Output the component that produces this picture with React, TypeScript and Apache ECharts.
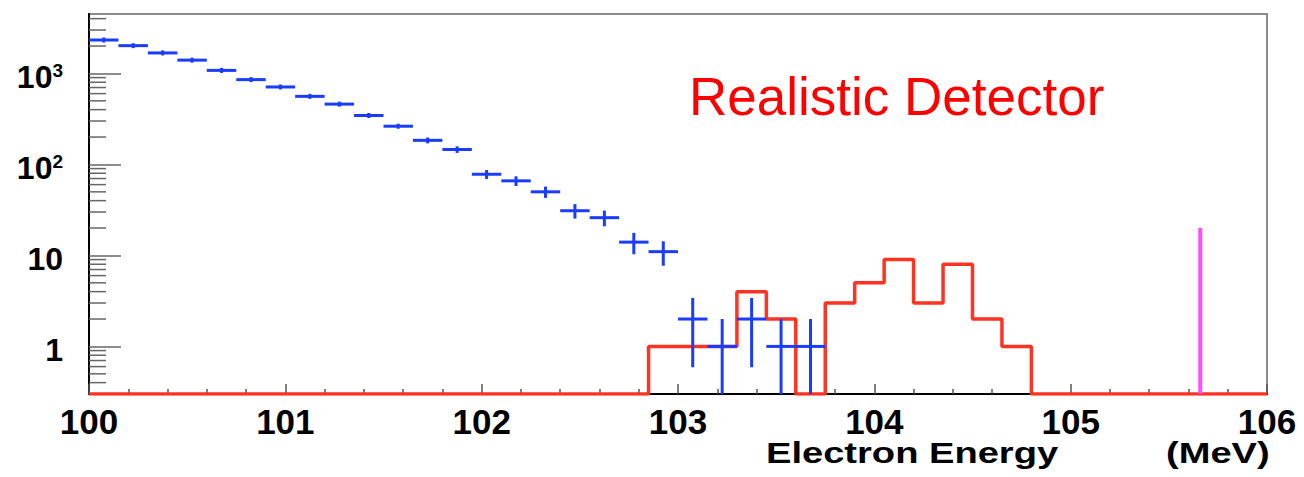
import React, { useEffect, useRef } from "react";
import * as echarts from "echarts";

// ---- axis ranges ----
const X_MIN = 100;
const X_MAX = 106;
const Y_MIN = 0.3;
const Y_MAX = 4500;
const BIN_WIDTH = 0.15;

// ---- blue: simulated background (points with error bars) ----
const blueCenters = [
  100.075, 100.225, 100.375, 100.525, 100.675, 100.825, 100.975, 101.125, 101.275,
  101.425, 101.575, 101.725, 101.875, 102.025, 102.175, 102.325, 102.475, 102.625,
  102.775, 102.925, 103.075, 103.225, 103.375, 103.525, 103.675,
];
const blueCounts = [
  2330, 2020, 1680, 1400, 1080, 855, 710, 560, 460, 345, 263, 184, 146, 78, 66, 50,
  31, 26, 14, 11, 2, 1, 2, 1, 1,
];
const blueErrors = [
  48.3, 44.9, 41, 37.4, 32.9, 29.2, 26.6, 23.7, 21.4, 18.6, 16.2, 13.6, 12.1, 8.8,
  8.1, 7.1, 5.6, 5.1, 3.7, 3.3, 1.41, 1, 1.41, 1, 1,
];

// ---- red: realistic detector histogram (bin low edges and counts) ----
const redEdges = [
  100, 102.85, 103.0, 103.15, 103.3, 103.45, 103.6, 103.75, 103.9, 104.05, 104.2,
  104.35, 104.5, 104.65, 104.8, 106,
];
const redCounts = [0, 1, 1, 1, 4, 2, 0, 3, 5, 9, 3, 8, 2, 1, 0, 0];

// ---- magenta: signal line ----
const magentaX = 105.66;
const magentaTop = 20;

// ---- tick values ----
const xTicks = [100, 101, 102, 103, 104, 105, 106];
const yMinorTicks = [
  0.4, 0.5, 0.6, 0.7, 0.8, 0.9, 2, 3, 4, 5, 6, 7, 8, 9, 20, 30, 40, 50, 60, 70, 80,
  90, 200, 300, 400, 500, 600, 700, 800, 900, 2000, 3000, 4000,
];

const BLUE = "#1a3cff";
const RED = "#ff3322";
const MAGENTA = "#ff4cff";
const FONT = "Liberation Sans, Arial, Helvetica, sans-serif";

export default function App() {
  const ref = useRef<HTMLDivElement>(null);

  useEffect(() => {
    if (!ref.current) return;
    const chart = echarts.init(ref.current, undefined, { renderer: "svg" });

    const redData = redEdges.map((x, i) => [x, redCounts[i] > 0 ? redCounts[i] : Y_MIN]);
    const blueData = blueCenters.map((x, i) => [x, blueCounts[i], blueErrors[i]]);

    const option: any = {
      animation: false,
      backgroundColor: "#ffffff",
      grid: {
        left: 89,
        right: 37,
        top: 14,
        bottom: 83,
        show: true,
        borderColor: "#8a8a8a",
        borderWidth: 2,
        backgroundColor: "transparent",
      },
      xAxis: {
        type: "value",
        min: X_MIN,
        max: X_MAX,
        interval: 1,
        axisLine: { show: true, onZero: false, lineStyle: { color: "#000", width: 2 } },
        axisTick: { show: true, inside: true, length: 10, lineStyle: { color: "#555", width: 1.5 } },
        minorTick: { show: true, splitNumber: 5, length: 5, lineStyle: { color: "#555", width: 1.5 } },
        splitLine: { show: false },
        axisLabel: {
          show: true,
          margin: 10,
          fontSize: 35,
          fontWeight: "bold",
          fontFamily: FONT,
          color: "#000",
          customValues: xTicks,
        },
      },
      yAxis: {
        type: "log",
        logBase: 10,
        min: Y_MIN,
        max: Y_MAX,
        axisLine: { show: true, onZero: false, lineStyle: { color: "#000", width: 2 } },
        axisTick: { show: true, inside: true, length: 32, lineStyle: { color: "#666", width: 1.5 } },
        minorTick: { show: false },
        splitLine: { show: false },
        axisLabel: {
          show: true,
          margin: 26,
          padding: [8, 0, 0, 0],
          showMinLabel: false,
          showMaxLabel: false,
          fontFamily: FONT,
          color: "#000",
          formatter: (v: number) => {
            const e = Math.round(Math.log10(v));
            if (e === 0) return "{b|1}";
            if (e === 1) return "{b|10}";
            return `{b|10}{s|${e}}`;
          },
          rich: {
            b: { fontSize: 32, fontWeight: "bold", fontFamily: FONT, color: "#000" },
            s: { fontSize: 19, fontWeight: "bold", fontFamily: FONT, color: "#000", verticalAlign: "top" },
          },
        },
      },
      series: [
        {
          name: "yMinorTicks",
          type: "custom",
          data: yMinorTicks.map((v) => [X_MIN, v]),
          silent: true,
          z: 1,
          renderItem: (params: any, api: any) => {
            const p = api.coord([api.value(0), api.value(1)]);
            return {
              type: "line",
              shape: { x1: p[0], y1: p[1], x2: p[0] + 17, y2: p[1] },
              style: { stroke: "#666", lineWidth: 1.5 },
            };
          },
        },
        {
          name: "Realistic Detector",
          type: "line",
          step: "end",
          data: redData,
          showSymbol: false,
          symbol: "none",
          lineStyle: { color: RED, width: 3.5 },
          z: 3,
        },
        {
          name: "Background",
          type: "custom",
          data: blueData,
          z: 4,
          renderItem: (params: any, api: any) => {
            const x = api.value(0);
            const y = api.value(1);
            const e = api.value(2);
            const pL = api.coord([x - BIN_WIDTH / 2, y]);
            const pR = api.coord([x + BIN_WIDTH / 2, y]);
            const pC = api.coord([x, y]);
            const pT = api.coord([x, y + e]);
            const lo = y - e > Y_MIN ? y - e : Y_MIN;
            const pB = api.coord([x, lo]);
            const top = Math.min(pT[1], pC[1] - 2.5);
            const bottom = Math.max(pB[1], pC[1] + 2.5);
            const style = { stroke: BLUE, lineWidth: 3 };
            return {
              type: "group",
              children: [
                { type: "line", shape: { x1: pL[0], y1: pL[1], x2: pR[0], y2: pR[1] }, style },
                { type: "line", shape: { x1: pC[0], y1: top, x2: pC[0], y2: bottom }, style },
              ],
            };
          },
        },
        {
          name: "Signal",
          type: "line",
          data: [
            [magentaX, Y_MIN],
            [magentaX, magentaTop],
          ],
          showSymbol: false,
          symbol: "none",
          lineStyle: { color: MAGENTA, width: 4 },
          z: 5,
        },
      ],
      graphic: [
        {
          type: "text",
          x: 689,
          y: 96,
          style: {
            text: "Realistic Detector",
            fontSize: 53,
            fontFamily: FONT,
            fill: "#ff0000",
            textAlign: "left",
            verticalAlign: "middle",
          },
        },
        {
          type: "text",
          x: 766,
          y: 452.5,
          scaleX: 1.27,
          style: {
            text: "Electron Energy",
            fontSize: 30,
            fontWeight: "bold",
            fontFamily: FONT,
            fill: "#000",
            textAlign: "left",
            verticalAlign: "middle",
          },
        },
        {
          type: "text",
          x: 1166,
          y: 452.5,
          scaleX: 1.27,
          style: {
            text: "(MeV)",
            fontSize: 30,
            fontWeight: "bold",
            fontFamily: FONT,
            fill: "#000",
            textAlign: "left",
            verticalAlign: "middle",
          },
        },
      ],
    };

    chart.setOption(option);
    return () => chart.dispose();
  }, []);

  return (
    <div
      ref={ref}
      style={{ position: "fixed", left: 0, top: 0, width: 1304, height: 477, background: "#fff" }}
    />
  );
}
